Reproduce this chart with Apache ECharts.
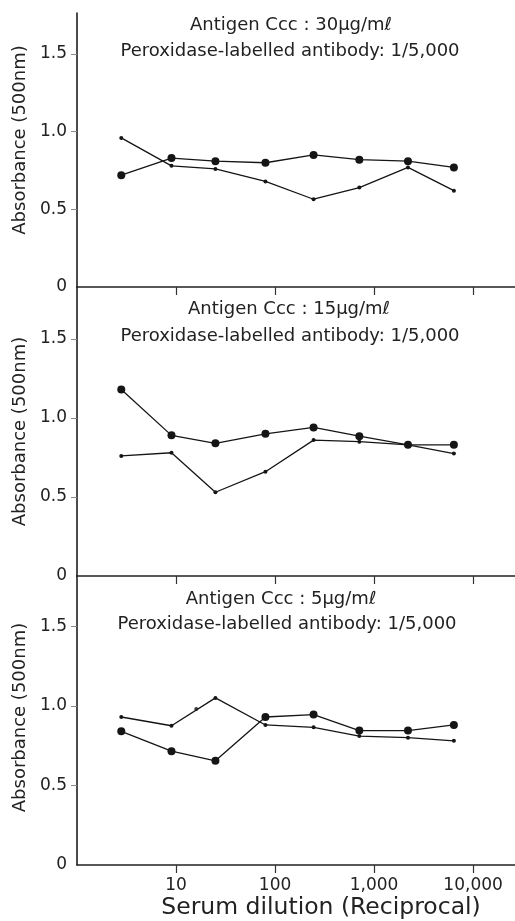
<!DOCTYPE html>
<html><head><meta charset="utf-8">
<script src="https://cdn.jsdelivr.net/npm/echarts@6/dist/echarts.min.js"></script>
<style>html,body{margin:0;padding:0;background:#fff}#c{width:515px;height:921px}</style>
</head><body><div id="c"></div>
<script>
// ---- data ----
const dilutions = [2.8, 9, 25, 80, 245, 710, 2200, 6400];
const xTicks = [10, 100, 1000, 10000];
const yTicks = [0, 0.5, 1.0, 1.5];
const panelTitles = ['Antigen Ccc : 30μg/mℓ', 'Antigen Ccc : 15μg/mℓ', 'Antigen Ccc : 5μg/mℓ'];
const antibodyLabel = 'Peroxidase-labelled antibody: 1/5,000';
const yTitle = 'Absorbance (500nm)';
const xTitle = 'Serum dilution (Reciprocal)';
const large30 = [0.72, 0.83, 0.81, 0.80, 0.85, 0.82, 0.81, 0.77];
const small30 = [0.96, 0.78, 0.76, 0.68, 0.565, 0.64, 0.77, 0.62];
const large15 = [1.18, 0.89, 0.84, 0.90, 0.94, 0.885, 0.83, 0.83];
const small15 = [0.76, 0.78, 0.53, 0.66, 0.86, 0.85, 0.83, 0.775];
const large5 = [0.84, 0.715, 0.655, 0.93, 0.945, 0.845, 0.845, 0.88];
const small5 = [0.93, 0.875, 1.05, 0.88, 0.865, 0.81, 0.80, 0.78];
const strayX5 = [16];
const strayY5 = [0.98];

// ---- layout ----
const FONT = 'DejaVu Sans';
const INK = '#151515';
const grids = [
  {left: 77, right: 0, top: 13, height: 274},
  {left: 77, right: 0, top: 287, height: 289},
  {left: 77, right: 0, top: 576, height: 291}
];
const yMax = [1.764, 1.829, 1.816];
const yNamePad = [20, 0, 6];
const titlePos = [
  [[291, 25], [290, 51]],
  [[289, 309], [290, 336]],
  [[281, 599], [287, 624]]
];

function makeX(i) {
  const last = i === 2;
  return {
    type: 'log', logBase: 10, gridIndex: i, min: 1, max: 26500,
    axisLine: {show: true, lineStyle: {color: '#222', width: 1.5}},
    axisTick: {show: true, inside: false, length: 8, customValues: xTicks,
      lineStyle: {color: '#333', width: 1.2}},
    minorTick: {show: false},
    splitLine: {show: false},
    axisLabel: {show: last, customValues: xTicks, margin: 12,
      fontFamily: FONT, fontSize: 17, color: '#222',
      formatter: v => xTicks.includes(Math.round(v)) ? Math.round(v).toLocaleString('en-US') : ''},
    name: last ? xTitle : '', nameLocation: 'middle', nameGap: 31,
    nameTextStyle: {fontFamily: FONT, fontSize: 23.5, color: '#222', padding: [0, 0, 0, 50]}
  };
}
function makeY(i) {
  return {
    type: 'value', gridIndex: i, min: 0, max: yMax[i], interval: 0.5,
    axisLine: {show: true, lineStyle: {color: '#111', width: 1.5}},
    axisTick: {show: true, inside: false, length: 6, customValues: [0.5, 1, 1.5],
      lineStyle: {color: '#888', width: 1}},
    splitLine: {show: false},
    axisLabel: {customValues: yTicks, margin: 10, fontFamily: FONT, fontSize: 17, color: '#222',
      formatter: v => v > 1.51 ? '' : (v === 0 ? '0' : v.toFixed(1))},
    name: yTitle, nameLocation: 'middle', nameRotate: 90, nameGap: 40,
    nameTextStyle: {fontFamily: FONT, fontSize: 18, color: '#222', padding: [0, 0, 0, yNamePad[i]]}
  };
}
function lineSeries(i, name, vals, size) {
  return {
    type: 'line', name, xAxisIndex: i, yAxisIndex: i,
    data: dilutions.map((d, k) => [d, vals[k]]),
    symbol: 'circle', symbolSize: size, showSymbol: true,
    itemStyle: {color: INK, borderWidth: 0},
    lineStyle: {color: INK, width: 1.3},
    z: size > 5 ? 3 : 2, animation: false, silent: true
  };
}

const graphics = [];
titlePos.forEach((p, i) => {
  graphics.push({type: 'text', x: p[0][0], y: p[0][1],
    style: {text: panelTitles[i], fontFamily: FONT, fontSize: 18, fill: '#222', align: 'center', verticalAlign: 'middle'}});
  graphics.push({type: 'text', x: p[1][0], y: p[1][1],
    style: {text: antibodyLabel, fontFamily: FONT, fontSize: 18, fill: '#222', align: 'center', verticalAlign: 'middle'}});
});

const chart = echarts.init(document.getElementById('c'), null, {renderer: 'canvas'});
chart.setOption({
  backgroundColor: '#fff',
  animation: false,
  grid: grids,
  xAxis: [makeX(0), makeX(1), makeX(2)],
  yAxis: [makeY(0), makeY(1), makeY(2)],
  graphic: graphics,
  series: [
    lineSeries(0, 'Small dots (30μg/mℓ)', small30, 4),
    lineSeries(0, 'Large dots (30μg/mℓ)', large30, 8),
    lineSeries(1, 'Small dots (15μg/mℓ)', small15, 4),
    lineSeries(1, 'Large dots (15μg/mℓ)', large15, 8),
    lineSeries(2, 'Small dots (5μg/mℓ)', small5, 4),
    lineSeries(2, 'Large dots (5μg/mℓ)', large5, 8),
    {type: 'scatter', name: 'Extra point (5μg/mℓ)', xAxisIndex: 2, yAxisIndex: 2,
     data: strayX5.map((d, k) => [d, strayY5[k]]), symbolSize: 4,
     itemStyle: {color: INK}, animation: false, silent: true}
  ]
});
</script></body></html>
